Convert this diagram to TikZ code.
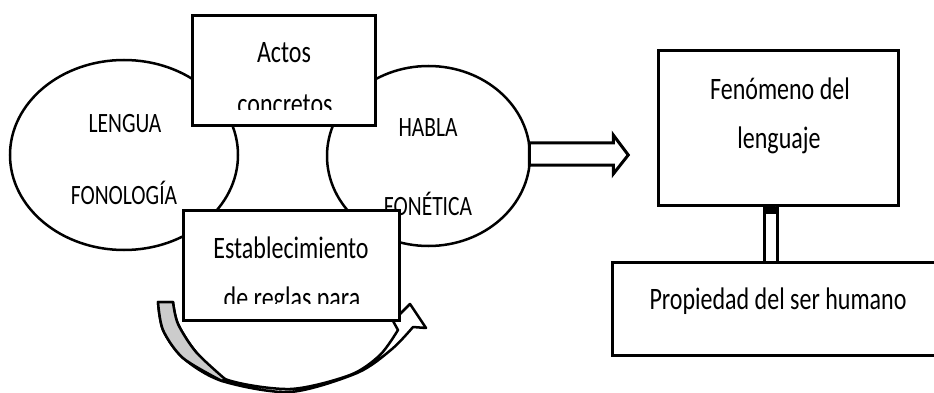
\documentclass[tikz,border=0pt]{standalone}
\usepackage{fontspec}
\setmainfont{Carlito}
\usetikzlibrary{shapes.geometric}
\newcommand{\tallt}[1]{\scalebox{1}[1.3]{#1}}

\begin{document}
\begin{tikzpicture}[x=1pt, y=-1pt,
    box/.style={draw, line width=3pt, fill=white, inner sep=0pt},
    oval/.style={ellipse, draw, line width=2.5pt, inner sep=0pt},
    boxtext/.style={anchor=base, font=\fontsize{24}{28}\selectfont},
    ovaltext/.style={anchor=base, font=\fontsize{21.5}{26}\selectfont},
    hollow/.style={draw, line width=3pt, fill=white, line join=miter},
    bandline/.style={draw, line width=2.5pt, line join=round}]
  \clip (0,0) rectangle (934,393);

  % curved arrow under the lower box
  \path[bandline, fill=white] plot[smooth] coordinates {(158,302) (163,330) (183,358) (222,381) (290,392) (357,373) (392,349) (413,327)}
    -- (426,328) -- (410,304) -- (393,321)
    -- plot[smooth] coordinates {(398,330) (380,355) (350,375) (290,389) (225,379) (196,352) (178,324) (173,302)} -- cycle;
  \path[bandline, fill=gray!40] plot[smooth] coordinates {(158,302) (163,330) (183,358) (222,381)}
    -- plot[smooth] coordinates {(225,379) (196,352) (178,324) (173,302)} -- cycle;

  % ellipses
  \node[oval, minimum width=228pt, minimum height=190pt] (lengua) at (124,155) {};
  \node[oval, minimum width=203pt, minimum height=180pt] (habla) at (428.5,156) {};
  \node[ovaltext] (lenguaT) at (125,132) {\tallt{LENGUA}};
  \node[ovaltext] (fonologia) at (124,204) {\tallt{FONOLOGÍA}};
  \node[ovaltext] (hablaT) at (428,137) {\tallt{HABLA}};
  \node[ovaltext] (fonetica) at (428,215) {\tallt{FONÉTICA}};

  % hollow arrow to the right box
  \draw[hollow] (habla.east) ++(-2,-13) -- ++(84,0) -- ++(0,-8) -- ++(15,20)
    -- ++(-15,19) -- ++(0,-9) -- ++(-84,0) -- cycle;

  % boxes over the ellipses
  \node[box, minimum width=183pt, minimum height=110pt] (actos) at (283.5,71) {};
  \node[box, minimum width=216pt, minimum height=110pt] (estab) at (291,265) {};
  \node[boxtext] (actosT) at (284,63) {\tallt{Actos}};
  \node[boxtext] (estabT) at (291,258) {\tallt{Establecimiento}};
  \begin{scope}
    \clip (194,18) rectangle (373,110);
    \node[boxtext] (concretos) at (285,114.5) {\tallt{concretos}};
  \end{scope}
  \begin{scope}
    \clip (185,212) rectangle (397,303);
    \node[boxtext] (reglas) at (292,308) {\tallt{de reglas para}};
  \end{scope}

  % right column
  \node[box, minimum width=240pt, minimum height=154pt] (fen) at (778,128) {};
  \node[boxtext] (fenT) at (780,100) {\tallt{Fenómeno del}};
  \node[boxtext] (lenguaje) at (779,148) {\tallt{lenguaje}};
  \node[box, minimum width=333pt, minimum height=93pt] (prop) at (778.5,308.5) {};
  \node[boxtext] (propT) at (778,309) {\tallt{Propiedad del ser humano}};

  % hollow bar between the two boxes
  \draw[line width=3pt, double, double distance=10pt] ([xshift=-7pt]fen.south) -- ([xshift=-7pt]fen.south |- prop.north);
  \fill ([xshift=-15pt]fen.south) rectangle ++(16,7);
\end{tikzpicture}
\end{document}
